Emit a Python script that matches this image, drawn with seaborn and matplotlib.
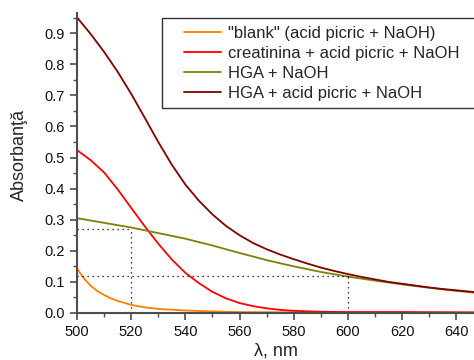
import numpy as np
import pandas as pd
import matplotlib
matplotlib.use("Agg")
import matplotlib.pyplot as plt
from matplotlib.ticker import MultipleLocator, FormatStrFormatter
from matplotlib.legend_handler import HandlerLine2D
from matplotlib.lines import Line2D
import seaborn as sns

# ---- data ----
labels = ['"blank" (acid picric + NaOH)',
          'creatinina + acid picric + NaOH',
          'HGA + NaOH',
          'HGA + acid picric + NaOH']
colors = ["#FF8000", "#FF0000", "#808000", "#800000"]

wl_blank = [500, 501, 502.5, 505, 507.5, 510, 512.5, 515, 520, 525, 530, 540, 550, 560, 580, 600, 620, 647]
abs_blank = [0.144, 0.130, 0.112, 0.088, 0.071, 0.058, 0.047, 0.039, 0.026, 0.018, 0.013, 0.008, 0.005, 0.003, 0.002, 0.001, 0.001, 0.001]

wl_creat = [500, 505, 510, 515, 520, 525, 530, 535, 540, 545, 550, 555, 560, 565, 570, 575, 580, 590, 600, 620, 647]
abs_creat = [0.524, 0.492, 0.452, 0.398, 0.338, 0.279, 0.223, 0.172, 0.129, 0.096, 0.068, 0.047, 0.032, 0.022, 0.015, 0.010, 0.007, 0.004, 0.003, 0.003, 0.002]

wl_hga = [500, 510, 520, 530, 540, 550, 560, 570, 580, 590, 600, 610, 620, 630, 640, 647]
abs_hga = [0.305, 0.290, 0.275, 0.257, 0.239, 0.217, 0.193, 0.170, 0.150, 0.132, 0.117, 0.104, 0.092, 0.081, 0.071, 0.065]

wl_hgap = [500, 505, 510, 515, 520, 525, 530, 535, 540, 545, 550, 555, 560, 565, 570, 575, 580,
           585, 590, 595, 600, 605, 610, 615, 620, 625, 630, 635, 640, 647]
abs_hgap = [0.951, 0.898, 0.840, 0.776, 0.705, 0.628, 0.550, 0.477, 0.413, 0.361, 0.317, 0.280, 0.250,
            0.225, 0.205, 0.188, 0.173, 0.159, 0.146, 0.135, 0.125, 0.116, 0.108, 0.100, 0.094, 0.088,
            0.082, 0.077, 0.073, 0.067]

# reference guide lines (wavelength, absorbance)
guide_wl = [520, 600]
guide_abs = [0.27, 0.12]

frames = []
for lab, wl, ab in zip(labels, [wl_blank, wl_creat, wl_hga, wl_hgap],
                       [abs_blank, abs_creat, abs_hga, abs_hgap]):
    frames.append(pd.DataFrame({"wl": wl, "abs": ab, "series": lab}))
df = pd.concat(frames, ignore_index=True)

sns.set_style("ticks")
plt.rcParams["font.family"] = ["Liberation Sans", "DejaVu Sans"]

fig = plt.figure(figsize=(4.74, 3.6), dpi=100)
ax = fig.add_axes([0.1624, 0.1306, 0.8376, 0.8333])

sns.lineplot(data=df, x="wl", y="abs", hue="series", hue_order=labels,
             palette=colors, linewidth=1.3, ax=ax, sort=False, estimator=None)

x0 = 500
for gx, gy in zip(guide_wl, guide_abs):
    ax.plot([x0, gx], [gy, gy], color="black", linestyle=(0, (1, 3)), linewidth=0.9)
    ax.plot([gx, gx], [0, gy], color="black", linestyle=(0, (1, 3)), linewidth=0.9)

ax.set_xlim(500, 646.5)
ax.set_ylim(0, 0.965)
ax.xaxis.set_major_locator(MultipleLocator(20))
ax.xaxis.set_minor_locator(MultipleLocator(10))
ax.yaxis.set_major_locator(MultipleLocator(0.1))
ax.yaxis.set_minor_locator(MultipleLocator(0.05))
ax.yaxis.set_major_formatter(FormatStrFormatter("%.1f"))

spine_col = "#4d4d4d"
for s in ["top", "right"]:
    ax.spines[s].set_visible(False)
for s in ["left", "bottom"]:
    ax.spines[s].set_color(spine_col)
    ax.spines[s].set_linewidth(1.5)
ax.tick_params(which="major", direction="out", length=5, width=1.2, color=spine_col,
               labelsize=10.5, labelcolor="#111111", pad=4)
ax.tick_params(which="minor", direction="out", length=3, width=1.0, color=spine_col)

ax.set_xlabel("λ, nm", fontsize=13)
ax.set_ylabel("Absorbanţă", fontsize=13)
ax.xaxis.set_label_coords(0.5, -0.1)
ax.yaxis.set_label_coords(-0.124, 0.527)

leg = ax.legend(loc="upper left", bbox_to_anchor=(0.214, 0.0, 0.80, 0.983), mode="expand",
                frameon=True, fancybox=False, framealpha=1, edgecolor="#333333", fontsize=12,
                handlelength=3.1, borderpad=0.45, labelspacing=0.3, handletextpad=0.4,
                borderaxespad=0,
                handler_map={Line2D: HandlerLine2D(xpad=0.9)})
leg.get_frame().set_linewidth(1.0)
for line in leg.get_lines():
    line.set_linewidth(1.3)

fig.savefig("out.png", dpi=100)
